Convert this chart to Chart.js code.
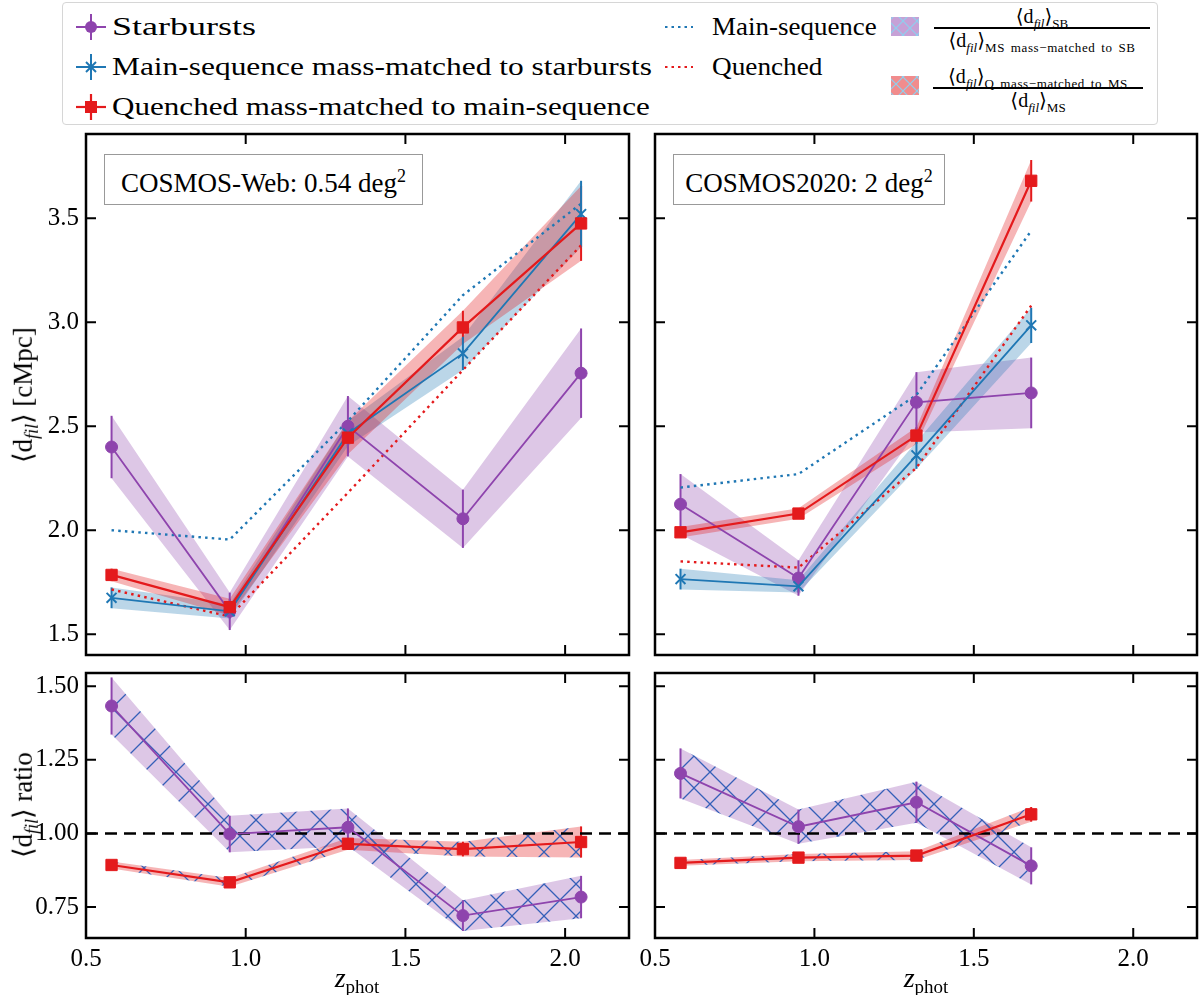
<!DOCTYPE html>
<html>
<head>
<meta charset="utf-8">
<script src="https://cdn.jsdelivr.net/npm/chart.js@4.4.1/dist/chart.umd.min.js"></script>
<style>
  body { margin: 0; width: 1200px; height: 995px; background: #fff; position: relative; overflow: hidden;
         font-family: "Liberation Serif", "DejaVu Serif", serif; color: #000; }
  canvas { position: absolute; }
  .abs { position: absolute; white-space: nowrap; }
  .txt { font-size: 26px; line-height: 30px; transform-origin: 0 50%; }
  .frac { position: absolute; text-align: center; font-size: 20px; line-height: 20px; }
  .frac .bar { height: 1.5px; background: #000; margin: 1px 0 1px 0; }
  .frac sub { font-size: 13px; line-height: 0; }
  .frac .s { letter-spacing: 0.6px; word-spacing: 2px; }
  .box { position: absolute; border: 1.5px solid #999; background: #fff; font-size: 27px; line-height: 42px; text-align: center; white-space: nowrap; }
</style>
</head>
<body>

<!-- legend -->
<div class="abs" style="left:62px; top:2px; width:1094px; height:121px; border:1.5px solid #d6d6d6; border-radius:4px;"></div>
<svg class="abs" style="left:0; top:0" width="1200" height="125">
  <defs>
    <pattern id="hl" width="14" height="14" patternUnits="userSpaceOnUse">
      <path d="M0,0 L14,14 M0,14 L14,0" stroke="#8ecfee" stroke-width="1.2"/>
    </pattern>
  </defs>
  <g stroke="#8e44ad" stroke-width="2"><line x1="76" y1="27" x2="106" y2="27"/><line x1="91" y1="14" x2="91" y2="40"/></g>
  <circle cx="91" cy="27" r="6" fill="#8e44ad"/>
  <g stroke="#1f77b4" stroke-width="2"><line x1="76" y1="67" x2="106" y2="67"/><line x1="91" y1="54" x2="91" y2="80"/>
    <line x1="86" y1="62" x2="96" y2="72"/><line x1="86" y1="72" x2="96" y2="62"/></g>
  <g stroke="#e41a1c" stroke-width="2.2"><line x1="76" y1="107" x2="106" y2="107"/><line x1="91" y1="94" x2="91" y2="120"/></g>
  <rect x="85" y="101" width="12" height="12" fill="#e41a1c"/>
  <line x1="665" y1="27" x2="693" y2="27" stroke="#1f77b4" stroke-width="2.2" stroke-dasharray="2.5 4"/>
  <line x1="665" y1="67" x2="693" y2="67" stroke="#e41a1c" stroke-width="2.2" stroke-dasharray="2.5 4"/>
  <rect x="891" y="17" width="28" height="19" fill="rgba(142,68,173,0.5)"/>
  <rect x="891" y="17" width="28" height="19" fill="url(#hl)"/>
  <rect x="891" y="76" width="28" height="19" fill="rgba(228,26,28,0.5)"/>
  <rect x="891" y="76" width="28" height="19" fill="url(#hl)"/>
</svg>
<div class="abs txt" data-w="144" style="left:112px; top:12px;">Starbursts</div>
<div class="abs txt" data-w="540" style="left:112px; top:52px;">Main-sequence mass-matched to starbursts</div>
<div class="abs txt" data-w="538" style="left:112px; top:92px;">Quenched mass-matched to main-sequence</div>
<div class="abs txt" data-w="165" style="left:712px; top:12px;">Main-sequence</div>
<div class="abs txt" data-w="110" style="left:712px; top:52px;">Quenched</div>
<div class="frac" style="left:934px; top:6px; width:216px;">
  <div>⟨d<sub><i>fil</i></sub>⟩<sub>SB</sub></div>
  <div class="bar"></div>
  <div>⟨d<sub><i>fil</i></sub>⟩<sub class="s">MS mass−matched to SB</sub></div>
</div>
<div class="frac" style="left:933px; top:66px; width:210px;">
  <div>⟨d<sub><i>fil</i></sub>⟩<sub class="s">Q mass−matched to MS</sub></div>
  <div class="bar"></div>
  <div>⟨d<sub><i>fil</i></sub>⟩<sub>MS</sub></div>
</div>

<canvas id="cTL" width="640" height="540" style="left:0; top:120px;"></canvas>
<canvas id="cTR" width="570" height="540" style="left:630px; top:120px;"></canvas>
<canvas id="cBL" width="640" height="335" style="left:0; top:660px;"></canvas>
<canvas id="cBR" width="570" height="335" style="left:630px; top:660px;"></canvas>

<div class="box" style="left:104px; top:154px; width:317px;">COSMOS-Web: 0.54 deg<sup style="font-size:18px">2</sup></div>
<div class="box" style="left:673px; top:154px; width:270px;">COSMOS2020: 2 deg<sup style="font-size:18px">2</sup></div>

<div class="abs" style="left:25px; top:395px; font-size:27px; transform:translate(-50%,-50%) rotate(-90deg);">⟨d<sub style="font-size:18px"><i>fil</i></sub>⟩ [cMpc]</div>
<div class="abs" style="left:25px; top:805px; font-size:27px; transform:translate(-50%,-50%) rotate(-90deg);">⟨d<sub style="font-size:18px"><i>fil</i></sub>⟩ ratio</div>
<div class="abs" style="left:357px; top:980px; font-size:28px; transform:translate(-50%,-50%);"><i>z</i><sub style="font-size:19px">phot</sub></div>
<div class="abs" style="left:926px; top:980px; font-size:28px; transform:translate(-50%,-50%);"><i>z</i><sub style="font-size:19px">phot</sub></div>

<script>
// redshift bins
const zWeb = [0.58, 0.95, 1.32, 1.68, 2.05];
const z2020 = [0.58, 0.95, 1.32, 1.68];
const xTicks = [0.5, 1.0, 1.5, 2.0];
const yTicksTop = [1.5, 2.0, 2.5, 3.0, 3.5];
const yTicksRatio = [0.75, 1.0, 1.25, 1.5];

// COSMOS-Web: mean filament distance
const sbWeb = [2.40, 1.61, 2.50, 2.055, 2.755];
const sbWebErr = [0.15, 0.09, 0.145, 0.14, 0.215];
const msmWeb = [1.675, 1.61, 2.465, 2.85, 3.52];
const msmWebErr = [0.05, 0.035, 0.06, 0.08, 0.16];
const qmWeb = [1.785, 1.63, 2.445, 2.975, 3.475];
const qmWebErr = [0.03, 0.04, 0.08, 0.08, 0.18];
const msWeb = [2.0, 1.955, 2.525, 3.13, 3.57];
const qWeb = [1.715, 1.585, 2.18, 2.77, 3.37];

// COSMOS2020: mean filament distance
const sb2020 = [2.125, 1.77, 2.615, 2.66];
const sb2020Err = [0.145, 0.085, 0.145, 0.17];
const msm2020 = [1.765, 1.73, 2.36, 2.985];
const msm2020Err = [0.05, 0.03, 0.065, 0.085];
const qm2020 = [1.99, 2.08, 2.455, 3.68];
const qm2020Err = [0.025, 0.025, 0.04, 0.1];
const ms2020 = [2.205, 2.27, 2.65, 3.44];
const q2020 = [1.85, 1.82, 2.30, 3.08];

// ratios
const sbRatioWeb = [1.433, 0.998, 1.021, 0.721, 0.784];
const sbRatioWebErr = [0.097, 0.062, 0.064, 0.052, 0.072];
const qRatioWeb = [0.893, 0.834, 0.965, 0.947, 0.971];
const qRatioWebErr = [0.012, 0.015, 0.02, 0.025, 0.053];
const sbRatio2020 = [1.204, 1.023, 1.106, 0.89];
const sbRatio2020Err = [0.085, 0.058, 0.07, 0.063];
const qRatio2020 = [0.90, 0.918, 0.925, 1.065];
const qRatio2020Err = [0.01, 0.012, 0.015, 0.025];

const PURPLE = "#8e44ad", BLUE = "#1f77b4", RED = "#e41a1c";
const FONT = { family: "Liberation Serif", size: 25 };

// stretch the legend labels to the width of the LaTeX font
document.querySelectorAll(".txt").forEach(el => {
  el.style.transform = "scaleX(" + (el.dataset.w / el.offsetWidth) + ")";
});

function pts(xs, ys) {
  return xs.map((x, i) => ({ x: x, y: ys[i] }));
}

// cross hatch over a transparent fill, like matplotlib hatch='x'
function hatch(fill) {
  const T = 32;
  const c = document.createElement("canvas");
  c.width = T; c.height = T;
  const g = c.getContext("2d");
  g.fillStyle = fill;
  g.fillRect(0, 0, T, T);
  g.strokeStyle = "#3560b8";
  g.lineWidth = 1.3;
  g.beginPath();
  g.moveTo(-2, -2); g.lineTo(T + 2, T + 2);
  g.moveTo(-2, T + 2); g.lineTo(T + 2, -2);
  g.stroke();
  return g.createPattern(c, "repeat");
}

// returns lower + upper datasets, upper fills down to lower
function band(xs, ys, errs, color) {
  return [
    { data: xs.map((x, i) => ({ x: x, y: ys[i] - errs[i] })), borderWidth: 0, pointRadius: 0, fill: false },
    { data: xs.map((x, i) => ({ x: x, y: ys[i] + errs[i] })), borderWidth: 0, pointRadius: 0, fill: "-1", backgroundColor: color }
  ];
}

function series(xs, ys, errs, color, style, radius, width) {
  return {
    data: pts(xs, ys), errs: errs, borderColor: color, borderWidth: width, fill: false,
    pointStyle: style, pointRadius: radius, pointBackgroundColor: color, pointBorderColor: color,
    pointBorderWidth: style === "crossRot" ? 2 : 1
  };
}

function dotted(xs, ys, color) {
  return { data: pts(xs, ys), borderColor: color, borderWidth: 2.4, borderDash: [2.5, 4.2], pointRadius: 0, fill: false };
}

function refLine() {
  return { data: [{ x: 0.5, y: 1 }, { x: 2.2, y: 1 }], borderColor: "#000", borderWidth: 2.5, borderDash: [12, 7], pointRadius: 0, fill: false };
}

const errorBars = {
  id: "errorBars",
  beforeDatasetsDraw(chart) {
    const { ctx, chartArea: a, scales } = chart;
    ctx.save();
    ctx.beginPath();
    ctx.rect(a.left, a.top, a.right - a.left, a.bottom - a.top);
    ctx.clip();
    chart.data.datasets.forEach(ds => {
      if (!ds.errs) return;
      ctx.strokeStyle = ds.borderColor;
      ctx.lineWidth = 2;
      ds.data.forEach((p, j) => {
        const x = scales.x.getPixelForValue(p.x);
        ctx.beginPath();
        ctx.moveTo(x, scales.y.getPixelForValue(p.y - ds.errs[j]));
        ctx.lineTo(x, scales.y.getPixelForValue(p.y + ds.errs[j]));
        ctx.stroke();
      });
    });
    ctx.restore();
  }
};

function framePlugin(xt, yt) {
  return {
    id: "frame",
    afterDraw(chart) {
      const { ctx, chartArea: a, scales } = chart;
      const L = 10;
      ctx.save();
      ctx.strokeStyle = "#000";
      ctx.lineWidth = 2;
      ctx.beginPath();
      xt.forEach(v => {
        const x = scales.x.getPixelForValue(v);
        ctx.moveTo(x, a.bottom); ctx.lineTo(x, a.bottom - L);
        ctx.moveTo(x, a.top); ctx.lineTo(x, a.top + L);
      });
      yt.forEach(v => {
        const y = scales.y.getPixelForValue(v);
        ctx.moveTo(a.left, y); ctx.lineTo(a.left + L, y);
        ctx.moveTo(a.right, y); ctx.lineTo(a.right - L, y);
      });
      ctx.stroke();
      ctx.lineWidth = 2.5;
      ctx.strokeRect(a.left, a.top, a.right - a.left, a.bottom - a.top);
      ctx.restore();
    }
  };
}

function makePanel(id, datasets, o) {
  new Chart(document.getElementById(id), {
    type: "line",
    data: { datasets: datasets },
    options: {
      responsive: false,
      animation: false,
      events: [],
      devicePixelRatio: 1,
      layout: { padding: o.padding, autoPadding: false },
      plugins: { legend: { display: false }, tooltip: { enabled: false }, filler: { drawTime: "beforeDatasetsDraw" } },
      scales: {
        x: {
          type: "linear", min: 0.5, max: 2.2, display: o.showX,
          afterBuildTicks: s => { s.ticks = xTicks.map(v => ({ value: v })); },
          afterFit: s => { s.height = o.showX ? 57 : 0; s.paddingLeft = 0; s.paddingRight = 0; },
          ticks: { font: FONT, color: "#000", padding: 6, maxRotation: 0, autoSkip: false, callback: v => v.toFixed(1) },
          grid: { display: false, drawTicks: false },
          border: { display: false }
        },
        y: {
          type: "linear", min: o.yMin, max: o.yMax, display: o.showY,
          afterBuildTicks: s => { s.ticks = o.yTicks.map(v => ({ value: v })); },
          afterFit: s => { s.width = o.showY ? 86 : 0; s.paddingTop = 0; s.paddingBottom = 0; },
          ticks: { font: FONT, color: "#000", padding: 7, autoSkip: false, callback: v => v.toFixed(o.digits) },
          grid: { display: false, drawTicks: false },
          border: { display: false }
        }
      }
    },
    plugins: [errorBars, framePlugin(xTicks, o.yTicks)]
  });
}

const purpleBand = "rgba(142,68,173,0.3)";
const blueBand = "rgba(31,119,180,0.3)";
const redBand = "rgba(228,26,28,0.32)";

makePanel("cTL", [
  series(zWeb, qmWeb, qmWebErr, RED, "rect", 8, 2.2),
  series(zWeb, msmWeb, msmWebErr, BLUE, "crossRot", 7, 1.8),
  series(zWeb, sbWeb, sbWebErr, PURPLE, "circle", 6, 1.8),
  dotted(zWeb, msWeb, BLUE),
  dotted(zWeb, qWeb, RED),
  ...band(zWeb, qmWeb, qmWebErr, redBand),
  ...band(zWeb, msmWeb, msmWebErr, blueBand),
  ...band(zWeb, sbWeb, sbWebErr, purpleBand)
], { padding: { left: 0, right: 11, top: 14, bottom: 5 }, yMin: 1.40, yMax: 3.905, yTicks: yTicksTop, digits: 1, showX: false, showY: true });

makePanel("cTR", [
  series(z2020, qm2020, qm2020Err, RED, "rect", 8, 2.2),
  series(z2020, msm2020, msm2020Err, BLUE, "crossRot", 7, 1.8),
  series(z2020, sb2020, sb2020Err, PURPLE, "circle", 6, 1.8),
  dotted(z2020, ms2020, BLUE),
  dotted(z2020, q2020, RED),
  ...band(z2020, qm2020, qm2020Err, redBand),
  ...band(z2020, msm2020, msm2020Err, blueBand),
  ...band(z2020, sb2020, sb2020Err, purpleBand)
], { padding: { left: 25, right: 3, top: 14, bottom: 5 }, yMin: 1.40, yMax: 3.905, yTicks: yTicksTop, digits: 1, showX: false, showY: false });

makePanel("cBL", [
  series(zWeb, qRatioWeb, qRatioWebErr, RED, "rect", 8, 2.2),
  series(zWeb, sbRatioWeb, sbRatioWebErr, PURPLE, "circle", 6, 1.8),
  refLine(),
  ...band(zWeb, qRatioWeb, qRatioWebErr, hatch(redBand)),
  ...band(zWeb, sbRatioWeb, sbRatioWebErr, hatch(purpleBand))
], { padding: { left: 0, right: 11, top: 13, bottom: 0 }, yMin: 0.645, yMax: 1.545, yTicks: yTicksRatio, digits: 2, showX: true, showY: true });

makePanel("cBR", [
  series(z2020, qRatio2020, qRatio2020Err, RED, "rect", 8, 2.2),
  series(z2020, sbRatio2020, sbRatio2020Err, PURPLE, "circle", 6, 1.8),
  refLine(),
  ...band(z2020, qRatio2020, qRatio2020Err, hatch(redBand)),
  ...band(z2020, sbRatio2020, sbRatio2020Err, hatch(purpleBand))
], { padding: { left: 25, right: 3, top: 13, bottom: 0 }, yMin: 0.645, yMax: 1.545, yTicks: yTicksRatio, digits: 2, showX: true, showY: false });
</script>
</body>
</html>
